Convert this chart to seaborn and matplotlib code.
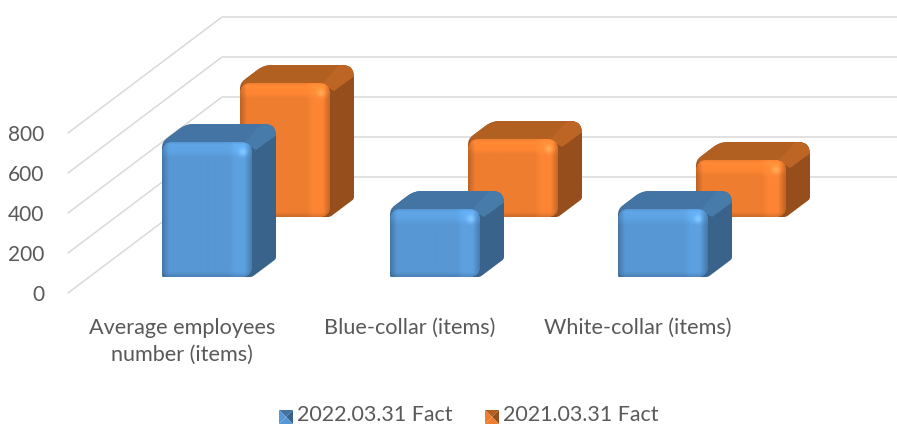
import matplotlib
matplotlib.use("Agg")
import matplotlib.pyplot as plt
import numpy as np
import pandas as pd
import seaborn as sns
from matplotlib.patches import PathPatch, Polygon
from matplotlib.path import Path
from matplotlib.transforms import IdentityTransform

categories = ["Average employees\nnumber (items)", "Blue-collar (items)", "White-collar (items)"]
series_names = ["2022.03.31 Fact", "2021.03.31 Fact"]
values_2022 = [675, 340, 340]
values_2021 = [670, 390, 285]
y_ticks = [0, 200, 400, 600, 800]

W, H = 897, 425
TEXT = "#595959"
GRID = "#D9D9D9"
# depth of the fake 3D box, in data units (x: categories, y: value)
CAT_PX = 228.0
VAL_PX = 0.2
BACK_X, BACK_Y = 154 / CAT_PX, 116 / VAL_PX
SERIES_SHIFT = {0: (25 / CAT_PX, 16 / VAL_PX), 1: (103 / CAT_PX, 76 / VAL_PX)}
BAR_DX, BAR_DY = 24, 18  # px
COLORS = {
    0: dict(face="#5797D3", top="#4374A3", side="#3A638B", corner="#477BAA"),
    1: dict(face="#EE7D30", top="#B25F22", side="#964F1C", corner="#BC6524"),
}


def rounded_path(points, radii):
    """Closed path through points, corners cut with a quadratic curve."""
    pts = np.asarray(points, dtype=float)
    n = len(pts)
    verts, codes = [], []
    for i in range(n):
        p, prev, nxt = pts[i], pts[i - 1], pts[(i + 1) % n]
        r = radii[i]
        a = p + (prev - p) / np.linalg.norm(prev - p) * r
        b = p + (nxt - p) / np.linalg.norm(nxt - p) * r
        verts += [a, p, b]
        codes += [Path.MOVETO if i == 0 else Path.LINETO, Path.CURVE3, Path.CURVE3]
    verts.append(verts[0])
    codes.append(Path.CLOSEPOLY)
    return Path(verts, codes)


def face_image(color, w, h):
    """Bevelled front face as an RGB array."""
    base = np.array(matplotlib.colors.to_rgb(color))
    xx, yy = np.meshgrid(np.arange(w) + 0.5, np.arange(h) + 0.5)
    m = np.ones((h, w))
    m *= np.interp(xx, [0, 7, w - 24, w - 18, w - 8, w - 2, w], [0.78, 1, 1, 1.06, 1.06, 0.85, 0.8])
    m *= np.interp(yy, [0, 3, 10, 16, h - 5, h], [1.0, 1.1, 1.07, 1, 1, 0.85])
    spot = np.exp(-(((xx - (w - 10)) / 4) ** 2 + ((yy - 10) / 4) ** 2))
    img = base[None, None, :] * m[:, :, None] + spot[:, :, None] * 0.12
    return np.clip(img, 0, 1)


def draw_bar(fig, ax, bar, series, zorder):
    c = COLORS[series]
    dx, dy = SERIES_SHIFT[series]
    x0, y0 = ax.transData.transform((bar.get_x() + dx, dy))
    x1, y1 = ax.transData.transform((bar.get_x() + bar.get_width() + dx, bar.get_height() + dy))
    tr = IdentityTransform()

    outline = [(x0, y1), (x0 + BAR_DX, y1 + BAR_DY), (x1 + BAR_DX, y1 + BAR_DY),
               (x1 + BAR_DX, y0 + BAR_DY), (x1, y0), (x0, y0)]
    body = PathPatch(rounded_path(outline, [6, 8, 12, 2, 2, 2]), fc=c["side"], ec="none",
                     transform=tr, zorder=zorder)
    ax.add_patch(body)
    body.set_clip_on(False)
    top = Polygon([(x0 - 2, y1 - 2), (x0 + BAR_DX, y1 + BAR_DY + 1), (x1 + BAR_DX + 2, y1 + BAR_DY + 1),
                   (x1, y1 - 2)], fc=c["top"], ec="none", transform=tr, zorder=zorder + 0.1)
    ax.add_patch(top)
    top.set_clip_box(fig.bbox)
    top.set_clip_path(body)
    corner = Polygon([(x1 - 8, y1 - 1), (x1 + BAR_DX - 14, y1 + BAR_DY + 1), (x1 + BAR_DX + 2, y1 + BAR_DY + 1),
                      (x1 + BAR_DX + 2, y1 + BAR_DY - 10), (x1 + 4, y1 - 8)],
                     fc=c["corner"], ec="none", transform=tr, zorder=zorder + 0.15)
    ax.add_patch(corner)
    corner.set_clip_box(fig.bbox)
    corner.set_clip_path(body)

    front = [(x0, y1), (x1, y1), (x1, y0), (x0, y0)]
    clip = PathPatch(rounded_path(front, [11, 11, 11, 2]), fc=c["face"], ec="none",
                     transform=tr, zorder=zorder + 0.2)
    ax.add_patch(clip)
    clip.set_clip_on(False)
    w, h = int(round(x1 - x0)), int(round(y1 - y0))
    im = ax.imshow(face_image(c["face"], w, h), extent=(x0, x1, y0, y1), transform=tr,
                   origin="upper", aspect="auto", zorder=zorder + 0.3, interpolation="bilinear")
    im.set_clip_box(fig.bbox)
    im.set_clip_path(clip)


def legend_swatch(ax, x, y, size, series):
    c = COLORS[series]
    tr = IdentityTransform()
    x1, y1 = x + size, y + size
    mx, my = x + size / 2, y + size / 2
    tris = [([(x, y1), (x1, y1), (mx, my)], c["top"]),
            ([(x1, y1), (x1, y), (mx, my)], c["side"]),
            ([(x, y), (x, y1), (mx, my)], c["face"]),
            ([(x, y), (x1, y), (mx, my)], c["face"])]
    for pts, col in tris:
        patch = Polygon(pts, fc=col, ec="none", transform=tr, zorder=5)
        ax.add_patch(patch)
        patch.set_clip_on(False)


sns.set_theme(style="white")
plt.rcParams["font.family"] = ["Lato", "DejaVu Sans"]

df = pd.DataFrame({
    "category": categories * 2,
    "series": [series_names[0]] * 3 + [series_names[1]] * 3,
    "value": values_2022 + values_2021,
})

fig = plt.figure(figsize=(W / 100, H / 100), dpi=100)
ax = fig.add_axes([68 / W, (H - 293) / H, 684 / W, 160 / H])
sns.barplot(data=df, x="category", y="value", hue="series", dodge=False, width=90 / CAT_PX,
            legend=False, ax=ax, errorbar=None)
ax.set_xlim(-0.5, 2.5)
ax.set_ylim(0, 800)
ax.autoscale(False)
sns.despine(ax=ax, left=True, bottom=True)
ax.set_xlabel("")
ax.set_ylabel("")
ax.patch.set_alpha(0)

# left wall and back wall gridlines
for v in y_ticks:
    ax.plot([-0.5, -0.5 + BACK_X, 2.5 + BACK_X], [v, v + BACK_Y, v + BACK_Y],
            color=GRID, lw=1.1, clip_on=False, zorder=1, solid_joinstyle="miter")

ax.set_yticks(y_ticks)
ax.tick_params(axis="y", length=0, pad=17, labelsize=15, labelcolor=TEXT)
ax.tick_params(axis="x", length=0, pad=18, labelsize=15.6, labelcolor=TEXT)
for label in ax.get_xticklabels():
    label.set_linespacing(1.45)

bars = {0: ax.containers[0], 1: ax.containers[1]}
for series in (1, 0):
    for i, bar in enumerate(bars[series]):
        bar.set_visible(False)
        draw_bar(fig, ax, bar, series, zorder=3 + (1 - series) * 2 + i * 0.01)

for series, (sx, tx) in enumerate([(279, 297), (485, 503)]):
    legend_swatch(ax, sx, 1, 14, series)
    fig.text(tx / W, (H - 415) / H, series_names[series], color=TEXT, fontsize=15.4, va="center", ha="left")

fig.savefig("out.png", dpi=100)
